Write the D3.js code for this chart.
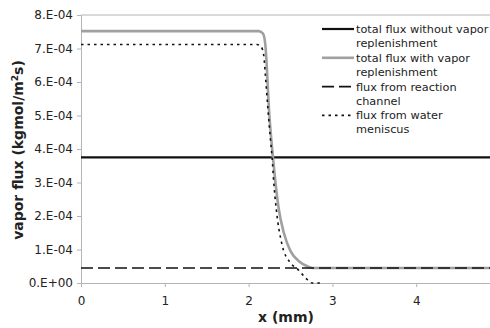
<!DOCTYPE html>
<html>
  <head>
    <meta charset="UTF-8">
    <title>vapor flux</title>
    <script src="https://cdnjs.cloudflare.com/ajax/libs/d3/7.8.5/d3.min.js"></script>
  </head>
  <style type="text/css">
    body {
      margin: 0px;
      background: #fff;
    }
    text {
      font-family: "DejaVu Sans", Verdana, sans-serif;
      fill: #222;
    }
    .tick-label {
      font-size: 12px;
    }
    .axis-title {
      font-size: 14px;
      font-weight: bold;
    }
    .legend-text {
      font-size: 11.3px;
    }
    .series {
      fill: none;
    }
  </style>
  <body>
    <div id="chart"></div>
    <script>
      // tick values and labels
      const xTicks = [0, 1, 2, 3, 4];
      const yTicks = [0, 1e-4, 2e-4, 3e-4, 4e-4, 5e-4, 6e-4, 7e-4, 8e-4];
      const yTickLabels = ["0.E+00", "1.E-04", "2.E-04", "3.E-04", "4.E-04", "5.E-04", "6.E-04", "7.E-04", "8.E-04"];

      // series (x in mm, flux in kgmol/m2s)
      const noReplX = [0, 4.88];
      const noReplY = [3.75e-4, 3.75e-4];

      const withReplX = [0, 2.12, 2.17, 2.20, 2.22, 2.24, 2.27, 2.29, 2.32, 2.36, 2.42, 2.50, 2.60, 2.70, 2.76, 4.88];
      const withReplY = [7.52e-4, 7.52e-4, 7.45e-4, 7.1e-4, 6.3e-4, 5.3e-4, 4.3e-4, 3.75e-4, 3.0e-4, 2.2e-4, 1.5e-4, 0.95e-4, 0.65e-4, 0.5e-4, 0.45e-4, 0.45e-4];

      const channelX = [0, 4.88];
      const channelY = [0.45e-4, 0.45e-4];

      const meniscusX = [0, 2.10, 2.15, 2.18, 2.20, 2.23, 2.26, 2.28, 2.30, 2.33, 2.40, 2.49, 2.59, 2.68, 2.76, 2.86];
      const meniscusY = [7.12e-4, 7.12e-4, 7.05e-4, 6.8e-4, 6.2e-4, 5.2e-4, 4.3e-4, 3.75e-4, 3.0e-4, 2.2e-4, 1.13e-4, 0.63e-4, 0.40e-4, 0.15e-4, 0, 0];

      const legendNames = [
        ["total flux without vapor", "replenishment"],
        ["total flux with vapor", "replenishment"],
        ["flux from reaction", "channel"],
        ["flux from water", "meniscus"]
      ];

      const width = 490;
      const height = 328;
      const margin = {top: 15, right: 0, bottom: 45, left: 81};

      const svg = d3.select("#chart")
        .append("svg")
        .attr("width", width)
        .attr("height", height);

      const x = d3.scaleLinear()
        .domain([0, 4.88])
        .range([margin.left, width - margin.right]);

      const y = d3.scaleLinear()
        .domain([0, 8e-4])
        .range([height - margin.bottom, margin.top]);

      // plot frame: top border and axes
      svg.append("line")
        .attr("x1", margin.left).attr("x2", width)
        .attr("y1", y(8e-4)).attr("y2", y(8e-4))
        .attr("stroke", "#b4b4b4");

      const xAxis = svg.append("g")
        .attr("transform", `translate(0,${y(0)})`)
        .call(d3.axisBottom(x).tickValues(xTicks).tickSize(4).tickFormat(d3.format("d")));
      xAxis.select(".domain").attr("stroke", "#b4b4b4");
      xAxis.selectAll(".tick line").attr("stroke", "#b4b4b4");
      xAxis.selectAll(".tick text")
        .attr("class", "tick-label")
        .attr("dy", "1.25em");

      const yAxis = svg.append("g")
        .attr("transform", `translate(${margin.left},0)`)
        .call(d3.axisLeft(y).tickValues(yTicks).tickSize(4).tickFormat((d, i) => yTickLabels[i]));
      yAxis.select(".domain").attr("stroke", "#b4b4b4");
      yAxis.selectAll(".tick line").attr("stroke", "#b4b4b4");
      yAxis.selectAll(".tick text")
        .attr("class", "tick-label")
        .attr("x", -8);
      xAxis.attr("font-family", null).attr("font-size", null);
      yAxis.attr("font-family", null).attr("font-size", null);

      // series
      const line = d3.line()
        .x(d => x(d[0]))
        .y(d => y(d[1]))
        .curve(d3.curveMonotoneX);

      const series = [
        {xs: noReplX, ys: noReplY, stroke: "#111", w: 2.2, dash: null},
        {xs: withReplX, ys: withReplY, stroke: "#a0a0a0", w: 2.6, dash: null},
        {xs: channelX, ys: channelY, stroke: "#111", w: 1.6, dash: "12,5"},
        {xs: meniscusX, ys: meniscusY, stroke: "#111", w: 1.6, dash: "2.5,4"}
      ];

      svg.selectAll(".series")
        .data(series)
        .enter().append("path")
        .attr("class", "series")
        .attr("d", s => line(s.xs.map((v, i) => [v, s.ys[i]])))
        .attr("stroke", s => s.stroke)
        .attr("stroke-width", s => s.w)
        .attr("stroke-dasharray", s => s.dash);

      // legend
      const legend = svg.append("g")
        .attr("transform", "translate(322,29)");
      const items = legend.selectAll("g")
        .data(series)
        .enter().append("g")
        .attr("transform", (d, i) => `translate(0,${i * 28.8})`);
      items.append("line")
        .attr("x1", 0).attr("x2", 32)
        .attr("stroke", s => s.stroke)
        .attr("stroke-width", s => s.w)
        .attr("stroke-dasharray", s => s.dash);
      items.append("text")
        .attr("class", "legend-text")
        .attr("x", 34)
        .attr("y", 4)
        .selectAll("tspan")
        .data((d, i) => legendNames[i])
        .enter().append("tspan")
        .attr("x", 34)
        .attr("dy", (d, j) => j === 0 ? 0 : 14)
        .text(d => d);

      // axis titles
      svg.append("text")
        .attr("class", "axis-title")
        .attr("text-anchor", "middle")
        .attr("x", 286)
        .attr("y", 322)
        .text("x (mm)");

      const yTitle = svg.append("text")
        .attr("class", "axis-title")
        .attr("text-anchor", "middle")
        .attr("transform", "translate(23,150) rotate(-90)");
      yTitle.append("tspan").text("vapor flux (kgmol/m");
      yTitle.append("tspan").attr("baseline-shift", "super").attr("font-size", "9px").text("2");
      yTitle.append("tspan").text("s)");
    </script>
  </body>
</html>
